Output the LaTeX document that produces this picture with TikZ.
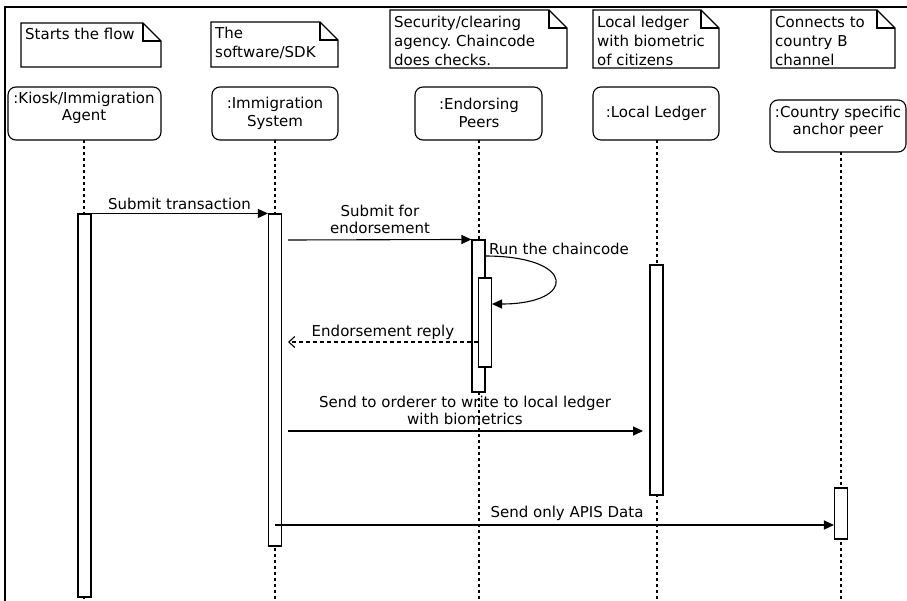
\documentclass[tikz,border=0pt]{standalone}
\usepackage{fontspec}
\setmainfont{DejaVu Sans}
\usetikzlibrary{arrows.meta}
\frenchspacing

\tikzset{
  frameline/.style={line width=2.2pt, line cap=rect},
  noteline/.style={line width=1.1pt, line join=miter},
  notetext/.style={inner sep=0pt, align=left, anchor=base west, font=\fontsize{15}{19}\selectfont},
  headbox/.style={draw, line width=1.1pt, rounded corners=8pt, inner sep=0pt},
  headtext/.style={inner sep=0pt, align=center, font=\fontsize{15}{17.5}\selectfont},
  lifeline/.style={line width=1.1pt, dash pattern=on 3pt off 3pt},
  actbar/.style={draw, fill=white, line width=1.1pt, inner sep=0pt, minimum width=13pt},
  msg/.style={line width=1.1pt, -{Triangle[length=10pt,width=9pt]}},
  reply/.style={line width=1.1pt, dash pattern=on 4pt off 3pt, -{Straight Barb[length=6pt,width=11pt]}},
  msgtext/.style={inner sep=0pt, align=center, font=\fontsize{15}{17}\selectfont},
}

% UML note with a folded corner: x1, y1, x2, y2, name, baseline of last line, text
\newcommand\umlnote[7]{%
  \draw[noteline] (#1,#2) -- (#3-18,#2) -- (#3,#2+18) -- (#3,#4) -- (#1,#4) -- cycle;
  \draw[noteline] (#3-18,#2) -- (#3-18,#2+18) -- (#3,#2+18);
  \node[notetext] (#5) at (#1+4,#6) {#7};
}

\begin{document}
\begin{tikzpicture}[x=1pt,y=-1pt]
\path[use as bounding box, fill=white] (0,0) rectangle (907,600);

% outer frame (top and left edges)
\coordinate (frBL) at (5,600);
\coordinate (frTL) at (5,7);
\coordinate (frTR) at (907,7);
\draw[frameline] (frBL) -- (frTL) -- (frTR);

% notes
\umlnote{21}{23}{161}{67}{noteA}{39}{Starts the flow}
\umlnote{211}{22}{338}{67}{noteB}{57}{The\\software/SDK}
\umlnote{390}{10}{567}{68}{noteC}{65}{Security/clearing\\agency. Chaincode\\does checks.}
\umlnote{593}{10}{719}{68}{noteD}{65}{Local ledger\\with biometric\\of citizens}
\umlnote{771}{10}{895}{68}{noteE}{65}{Connects to\\country B\\channel}

% lifeline heads
\node[headbox, minimum width=153pt, minimum height=53pt] (boxA) at (84.5,113.5) {};
\node[headbox, minimum width=126pt, minimum height=53pt] (boxB) at (275,113.5) {};
\node[headbox, minimum width=127pt, minimum height=53pt] (boxC) at (478.5,113.5) {};
\node[headbox, minimum width=126pt, minimum height=53pt] (boxD) at (656,113.5) {};
\node[headbox, minimum width=136pt, minimum height=52pt] (boxE) at (838,126) {};

\node[headtext] (headA) at (84,108) {:Kiosk/Immigration\\Agent};
\node[headtext] (headB) at (275,113.5) {:Immigration\\System};
\node[headtext] (headC) at (479,113) {:Endorsing\\Peers};
\node[headtext] (headD) at (656,113) {:Local Ledger};
\node[headtext] (headE) at (838,122) {:Country specific\\anchor peer};

% lifelines
\coordinate (topA) at (84,140);  \coordinate (endA) at (84,600);
\coordinate (topB) at (275,140); \coordinate (endB) at (275,600);
\coordinate (topC) at (479,140); \coordinate (endC) at (479,600);
\coordinate (topD) at (657,140); \coordinate (endD) at (657,600);
\coordinate (topE) at (841,152); \coordinate (endE) at (841,600);
\draw[lifeline] (topA) -- (endA);
\draw[lifeline] (topB) -- (endB);
\draw[lifeline] (topC) -- (endC);
\draw[lifeline] (topD) -- (endD);
\draw[lifeline] (topE) -- (endE);

% activation bars
\node[actbar, minimum height=383pt] (barA) at (84.5,405.5) {};
\node[actbar, minimum height=332pt] (barB) at (275,380) {};
\node[actbar, minimum height=152pt] (barC1) at (478.5,316) {};
\node[actbar, minimum height=89pt] (barC2) at (485,322.5) {};
\node[actbar, minimum height=230pt] (barD) at (656.5,380) {};
\node[actbar, minimum height=51pt] (barE) at (841,513.5) {};

% messages
\draw[msg] (barA.north east) -- (barB.north west);
\node[msgtext, anchor=base] (lblA) at (179.5,209) {Submit transaction};

\coordinate (m2s) at (288,240);
\draw[msg] (m2s) -- (barC1.north west);
\node[msgtext, anchor=south] (lblB) at (380,234) {Submit for\\endorsement};

\coordinate (m3s) at (485,256);
\coordinate (m3e) at (492,304);
\draw[msg] (m3s) .. controls (577,256) and (577,304) .. (m3e);
\node[msgtext, anchor=base west] (lblC) at (489,254) {Run the chaincode};

\coordinate (m4s) at (478,342);
\coordinate (m4e) at (288,342);
\draw[reply] (m4s) -- (m4e);
\node[msgtext, anchor=base] (lblD) at (383,336) {Endorsement reply};

\coordinate (m5s) at (288,431);
\coordinate (m5e) at (643,431);
\draw[msg] (m5s) -- (m5e);
\node[msgtext, anchor=south] (lblE) at (465,425) {Send to orderer to write to local ledger\\with biometrics};

\coordinate (m6s) at (275,525);
\draw[msg] (m6s) -- (m6s -| barE.west);
\node[msgtext, anchor=base] (lblF) at (567,517) {Send only APIS Data};
\end{tikzpicture}
\end{document}
